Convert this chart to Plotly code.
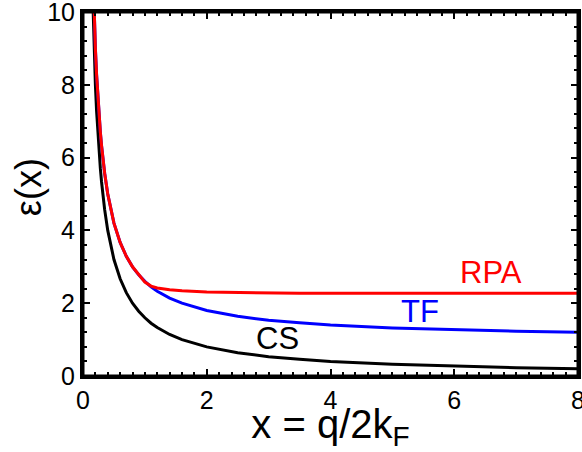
import plotly.graph_objects as go

# x = q/2kF sample positions
x_vals = [0.14, 0.16, 0.18, 0.20, 0.22, 0.25, 0.28, 0.30, 0.35, 0.40, 0.45, 0.50, 0.60, 0.70,
          0.80, 0.90, 1.00, 1.10, 1.20, 1.40, 1.60, 2.00, 2.50, 3.00, 3.50, 4.00,
          5.00, 6.00, 7.00, 8.00]

# RPA (red)
eps_rpa = [12.4, 11.0, 9.89, 9.00, 8.27, 7.40, 6.71, 6.33, 5.57, 5.00, 4.56, 4.20, 3.67, 3.29,
           3.00, 2.78, 2.58, 2.47, 2.42, 2.37, 2.34, 2.31, 2.29, 2.28, 2.27, 2.27,
           2.27, 2.27, 2.27, 2.27]

# TF (blue)
eps_tf = [12.4, 11.0, 9.89, 9.00, 8.27, 7.40, 6.71, 6.33, 5.57, 5.00, 4.56, 4.20, 3.67, 3.29,
          3.00, 2.78, 2.60, 2.45, 2.33, 2.14, 2.00, 1.80, 1.64, 1.53, 1.46, 1.40,
          1.32, 1.27, 1.23, 1.20]

# CS (black)
eps_cs = [11.4, 10.0, 8.89, 8.00, 7.27, 6.40, 5.71, 5.33, 4.57, 4.00, 3.56, 3.20, 2.67, 2.29,
          2.00, 1.78, 1.60, 1.45, 1.33, 1.14, 1.00, 0.80, 0.64, 0.53, 0.46, 0.40,
          0.32, 0.27, 0.23, 0.20]

labels = ["RPA", "TF", "CS"]
label_x = [6.59, 5.44, 3.14]
label_y = [2.83, 1.77, 1.02]
colors = ["#ff0000", "#0000ff", "#000000"]

x_range = [0, 8]
y_range = [0, 10]

FONT = "Liberation Sans, Arial, sans-serif"

fig = go.Figure()
fig.add_trace(go.Scatter(x=x_vals, y=eps_cs, mode="lines", line=dict(color=colors[2], width=3), name="CS"))
fig.add_trace(go.Scatter(x=x_vals, y=eps_tf, mode="lines", line=dict(color=colors[1], width=3), name="TF"))
fig.add_trace(go.Scatter(x=x_vals, y=eps_rpa, mode="lines", line=dict(color=colors[0], width=3), name="RPA"))

for t, lx, ly, c in zip(labels, label_x, label_y, colors):
    fig.add_annotation(x=lx, y=ly, text=t, showarrow=False,
                       font=dict(family=FONT, size=31, color=c),
                       xanchor="center", yanchor="middle")

# y-axis title
fig.add_annotation(xref="paper", yref="paper", x=-0.111, y=0.519, text="ε(x)",
                   textangle=-90, showarrow=False, xanchor="center", yanchor="middle",
                   font=dict(family=FONT, size=36, color="black"))

# frame around the plotting area
fig.add_shape(type="rect", xref="x domain", yref="y domain", x0=0, x1=1, y0=0, y1=1,
              line=dict(color="black", width=3), fillcolor="rgba(0,0,0,0)", layer="above")

axis_common = dict(
    showline=True, linecolor="black", linewidth=3, mirror="allticks",
    ticks="inside", ticklen=7, tickwidth=2, tickcolor="black",
    showgrid=False, zeroline=False, automargin=False,
    tickmode="linear", tick0=0, dtick=2, ticklabeloverflow="allow",
    tickfont=dict(family=FONT, size=25, color="black"),
)

fig.update_xaxes(range=x_range,
                 minor=dict(dtick=0.2, tick0=0, ticks="inside", ticklen=4, tickwidth=2, tickcolor="black", showgrid=False),
                 title=dict(text="x = q/2k<sub>F</sub>", font=dict(family=FONT, size=40, color="black"), standoff=4),
                 **axis_common)
fig.update_yaxes(range=y_range,
                 minor=dict(dtick=0.4, tick0=0, ticks="inside", ticklen=4, tickwidth=2, tickcolor="black", showgrid=False),
                 **axis_common)

fig.update_layout(
    width=582, height=452,
    margin=dict(l=83, r=4, t=12, b=76),
    paper_bgcolor="white", plot_bgcolor="white",
    showlegend=False,
)

fig.write_html("out.html", config={"displayModeBar": False},
               post_script="document.body.style.margin='0';")
